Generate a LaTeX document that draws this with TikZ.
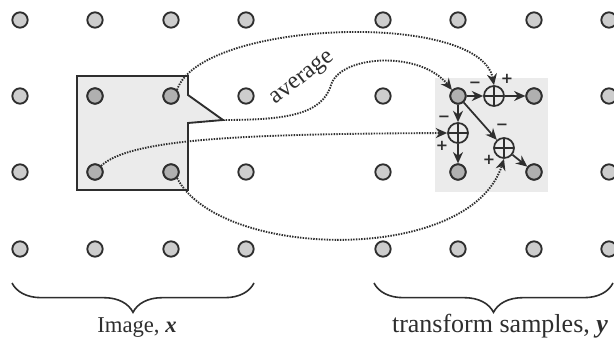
\documentclass[tikz,border=0pt]{standalone}
\usepackage{fontspec}
\setmainfont{Liberation Serif}
\newfontfamily\signfont{DejaVu Sans}
\usetikzlibrary{arrows.meta,decorations.pathreplacing}
\definecolor{ink}{HTML}{2E2E2E}
\definecolor{dotfill}{HTML}{CDCDCD}
\definecolor{hotfill}{HTML}{B0B0B0}
\definecolor{panel}{HTML}{EBEBEB}
\tikzset{
  pixel/.style={circle, draw=ink, line width=1.4pt, fill=dotfill, minimum size=11.5pt, inner sep=0pt},
  hot/.style={fill=hotfill},
  oplus/.style={circle, draw=ink, line width=1.3pt, minimum size=15pt, inner sep=0pt,
    path picture={\draw[ink, line width=1.3pt]
      (path picture bounding box.north) -- (path picture bounding box.south)
      (path picture bounding box.west) -- (path picture bounding box.east);}},
  arr/.style={draw=ink, line width=1.3pt, -{Stealth[length=8.5pt,width=7.5pt]}},
  flow/.style={draw=ink, line width=1.4pt, dash pattern=on 1.1pt off 0.9pt, -{Stealth[length=8.5pt,width=7.5pt]}},
  sign/.style={font=\signfont\bfseries\fontsize{11}{11}\selectfont, text=ink, inner sep=0pt},
  brace/.style={draw=ink, line width=1.2pt, decorate, decoration={brace, mirror, amplitude=22pt}},
  caption/.style={text=ink, inner sep=0pt, anchor=base},
}
\begin{document}
\begin{tikzpicture}[x=0.75pt,y=-0.75pt]
\useasboundingbox (0,0) rectangle (614,342);
\fill[white] (0,0) rectangle (614,342);

% shaded neighbourhood of the transform samples
\fill[panel] (435,78) rectangle (548,192);

% callout around the four image pixels
\coordinate (tip) at (223,120);
\draw[ink, line width=1.4pt, fill=panel] (77,76) -- (188,76) -- (188,95) -- (tip)
  -- (188,123) -- (188,190) -- (77,190) -- cycle;

% sample grid
\foreach \c/\x in {1/20,2/95,3/171,4/246,5/383,6/458,7/534,8/609}
  \foreach \r/\y in {1/20,2/96,3/172,4/249}
    \node[pixel] (g-\c-\r) at (\x,\y) {};
\foreach \c/\r in {2/2,3/2,2/3,3/3,6/2,7/2,6/3,7/3}
  \node[pixel, hot] at (g-\c-\r) {};

% summing junctions
\node[oplus] (sh) at (494,96) {};
\node[oplus] (sv) at (458,133) {};
\node[oplus] (sd) at (504,148) {};

% differences from the reference sample
\draw[arr] (g-6-2) -- (sh);
\draw[arr] (sh) -- (g-7-2);
\draw[arr] (g-6-2) -- (sv);
\draw[arr] (sv) -- (g-6-3);
\draw[arr] (g-6-2) -- (sd);
\draw[arr] (sd) -- (g-7-3);

% signs at the junctions
\node[sign] at (475,85) {−};
\node[sign] at (507,79) {+};
\node[sign] at (444,119) {−};
\node[sign] at (442,146) {+};
\node[sign] at (502,127) {−};
\node[sign] at (489,160) {+};

% image samples feeding the transform samples
\draw[flow] (g-3-2.north east) .. controls (200,20) and (480,10) .. (sh.north);
\draw[flow] (tip) .. controls (285,120) and (322,115) .. (331,85)
  .. controls (340,55) and (420,50) .. (g-6-2.north west);
\draw[flow] (g-2-3.north east) .. controls (130,138) and (250,134) .. (sv.west);
\draw[flow] (g-3-3.south east) .. controls (220,260) and (470,265) .. (sd.south);

\node[font=\fontsize{18}{18}\selectfont, text=ink, rotate=38] (avg) at (303,79) {average};

% braces and captions
\draw[brace] (12,283) -- (254,283);
\draw[brace] (374,283) -- (613,283);
\node[caption, font=\fontsize{17}{17}\selectfont] (capx) at (137,332) {Image, \textbf{\textit{x}}};
\node[caption, font=\fontsize{19.5}{19.5}\selectfont] (capy) at (500,332) {transform samples, \textbf{\textit{y}}};
\end{tikzpicture}
\end{document}
